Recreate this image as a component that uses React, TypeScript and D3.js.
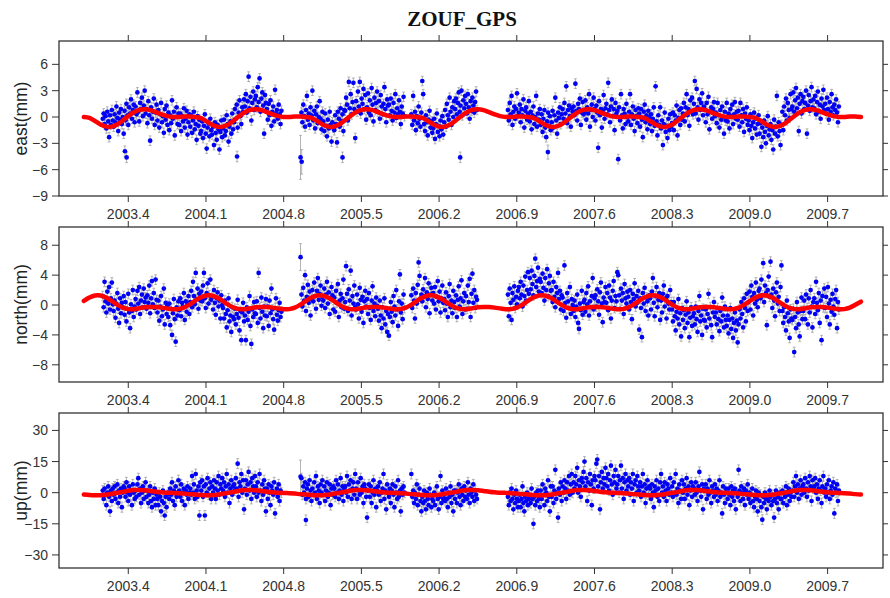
import React from "react";
import * as d3 from "d3";

// ---------- axes / layout data ----------
const TITLE = "ZOUF_GPS";
const X_TICKS = [2003.4, 2004.1, 2004.8, 2005.5, 2006.2, 2006.9, 2007.6, 2008.3, 2009.0, 2009.7];
const EAST_TICKS = [-9, -6, -3, 0, 3, 6];
const NORTH_TICKS = [-8, -4, 0, 4, 8];
const UP_TICKS = [-30, -15, 0, 15, 30];

// daily-solution segments (3-day sampling), start epochs of each continuous block
const SEG_START = [2003.17, 2004.96, 2005.95, 2006.82];
const DAY_STEP = 3;

// ---------- east (mm) ----------
const eastA = [-0.2,0.4,-0.8,0.1,-1.3,0.6,-0.5,-2.3,0.2,-0.9,0.8,-0.4,
-1.1,0.3,-0.6,1.2,-0.1,-1.6,0.5,-0.3,0.9,-0.8,0.0,-1.9,
0.7,-0.4,1.5,0.2,-0.9,1.1,0.4,2.0,-0.2,0.8,1.4,-0.6,
1.2,0.3,2.8,0.6,-0.5,1.6,0.9,2.2,0.1,1.3,3.0,0.4,
0.9,-0.7,1.8,0.2,-2.7,1.1,-0.2,0.6,2.1,-0.9,0.5,1.4,
-0.4,0.8,-1.2,0.3,1.6,-0.6,0.1,-1.8,0.9,-0.3,1.3,-0.9,
0.5,-1.5,0.2,-0.7,1.9,-0.2,0.6,-2.1,0.0,1.1,-0.8,0.4,
-0.9,0.4,-1.6,0.1,-0.5,1.0,-1.2,-0.2,0.7,-2.0,-0.6,0.3,
-1.1,0.2,-1.8,-0.4,0.6,-1.4,-0.8,-2.6,0.1,-1.0,-0.3,-1.9,
-1.6,-0.5,-2.4,-1.0,0.3,-1.9,-3.6,-1.2,-0.7,-2.2,-0.2,-1.5,
-2.0,-1.1,-3.2,-0.6,-1.8,-2.6,-0.9,-1.4,-3.7,-1.7,-0.4,-2.3,
-1.3,-0.3,-2.1,-1.6,0.2,-0.8,-2.8,-1.1,-0.5,-1.9,0.4,-1.4,
-0.6,0.9,-0.2,1.4,-1.2,0.5,1.9,0.1,-0.8,1.1,0.6,2.0,
1.2,2.6,0.5,1.8,4.6,1.0,2.3,-0.4,1.6,2.9,0.8,2.0,
2.4,1.1,3.4,1.7,4.4,0.6,2.1,2.8,1.3,-1.9,2.5,1.6,
0.9,-0.3,1.5,0.2,1.9,-1.0,0.6,1.2,-0.5,3.1,0.4,0.8,-0.2,1.4,0.3,-0.8,0.7];
const eastB = [0.5,-0.6,1.4,0.1,-1.1,0.8,2.4,-0.3,0.4,-0.9,1.1,0.2,
3.0,-0.4,0.7,-1.3,0.3,1.2,-0.7,0.0,1.8,-0.2,-1.4,0.6,
-0.5,-1.6,0.4,-1.0,-2.2,-0.3,-1.3,0.6,-0.9,-2.8,-0.6,-1.2,
-1.5,0.2,-0.8,-2.9,0.6,-0.2,-1.1,1.0,-0.5,0.3,-1.6,0.8,
0.7,2.2,1.4,-0.4,4.0,1.0,2.6,0.3,1.7,3.9,0.9,-2.4,
1.8,0.6,2.9,1.2,4.0,0.4,2.1,1.5,3.2,0.9,2.5,-0.3,
1.1,2.7,0.5,1.9,0.2,3.3,1.4,-0.5,2.2,0.8,1.6,2.9,
0.6,1.8,-0.2,2.5,1.2,0.3,1.5,3.4,0.9,-0.6,2.0,1.3,
1.4,0.2,2.1,0.7,-0.4,1.6,0.5,2.6,-0.1,1.0,0.3,1.9,0.6,-0.8,1.2,0.4,2.3,0.1];
const eastC = [0.3,-0.9,2.4,-0.4,0.6,-1.5,0.1,-0.7,1.2,-0.2,-1.1,0.5,
4.1,2.6,-0.8,-1.6,0.2,-0.6,-2.1,-0.3,0.7,-1.2,-0.5,-1.8,
-1.3,-0.2,-2.5,-0.8,0.4,-1.7,-1.0,-2.2,-0.4,-1.4,0.1,-2.0,
-0.6,0.8,-1.1,1.5,0.2,-0.3,2.2,0.6,-0.9,1.1,0.0,1.8,
0.9,2.1,0.3,1.6,2.8,0.6,1.3,3.0,0.2,1.9,1.0,2.4,
1.5,0.4,2.6,1.1,-0.2,1.8,0.7,2.2,1.3,0.5,1.7,2.9,0.8];
const eastD = [0.8,-0.4,1.6,0.3,2.4,-0.9,0.6,1.2,-0.2,0.9,2.7,0.1,
0.5,1.4,-0.6,0.9,0.2,2.0,-1.2,0.7,1.1,-0.3,0.4,1.8,
-0.5,0.6,-1.4,0.2,1.2,-0.8,0.0,2.4,-1.1,0.4,-0.3,0.9,
-0.9,0.3,-1.7,-0.2,0.8,-1.2,-2.3,-0.5,0.5,-1.0,0.1,-1.5,
-0.6,0.7,-1.2,0.2,2.2,-0.4,-1.9,0.5,-0.1,1.1,-0.8,0.3,
0.9,-0.2,1.6,0.4,3.5,-0.7,0.8,1.3,0.1,-1.1,1.0,0.6,
1.2,0.2,3.8,0.7,-0.4,1.5,0.9,2.1,-0.9,0.5,1.7,0.3,
0.6,1.9,-0.3,1.1,0.4,2.6,-1.1,0.8,1.4,0.0,2.2,0.9,
-0.4,1.3,0.5,-3.5,1.8,0.2,0.9,-1.2,0.7,2.5,-0.2,1.0,
1.5,0.3,3.9,0.8,-0.6,1.2,2.0,0.1,0.9,-1.5,1.6,0.4,
0.7,-4.8,1.1,-0.4,2.6,0.2,-1.3,0.9,0.4,-0.8,1.5,0.0,
-0.5,0.6,2.6,-0.9,0.3,1.2,-0.2,-1.6,0.8,0.1,-0.7,1.0,
0.4,-1.1,0.9,-0.3,-2.3,0.6,1.4,-0.6,0.2,-1.4,0.7,-0.1,
-0.8,0.3,-1.6,-0.2,1.1,-1.0,3.5,-0.5,-2.1,0.2,-0.9,1.1,
-1.3,-0.4,-3.2,-0.8,0.5,-1.7,-1.0,-2.4,-0.2,-1.5,0.3,-1.1,
-0.7,0.5,-1.5,0.2,-0.4,1.3,-2.1,-0.1,0.8,-0.9,1.0,-0.3,
0.4,1.6,-0.5,1.1,2.6,0.2,0.9,-1.0,1.9,0.6,2.2,0.3,
1.5,4.1,0.4,3.2,1.1,-0.3,2.0,0.8,1.6,2.7,0.2,1.2,
0.8,-0.6,1.6,0.3,2.3,-1.4,0.6,1.1,-0.2,0.9,1.7,0.1,
0.5,-0.7,1.6,0.2,-1.2,0.8,-0.3,1.2,0.0,-1.9,0.6,-0.4,
1.6,-0.5,0.4,-1.3,0.9,0.1,1.4,-0.8,0.3,1.7,-0.2,0.6,
-0.3,0.7,-1.1,1.6,0.2,-0.6,0.9,-1.7,0.4,-0.2,1.1,-0.9,
-0.4,-1.5,0.3,-1.0,-2.4,-0.6,0.5,-1.3,-0.2,-2.0,-0.8,0.2,
-1.9,-0.7,-3.4,-1.2,-2.3,-0.4,-1.7,-3.0,-1.0,0.1,-2.1,-1.4,
-0.8,-2.6,-1.5,-3.7,-0.3,-1.9,-1.1,2.4,-2.2,-0.6,-1.6,-3.2,
-0.9,0.6,-1.5,1.2,0.2,2.1,-0.4,1.6,0.8,-0.1,2.6,0.9,
1.2,2.8,0.6,1.9,3.3,1.0,2.2,-1.6,1.5,2.6,0.4,1.8,
2.3,0.9,1.6,3.0,-1.9,1.3,2.5,0.7,1.8,3.4,1.1,2.0,
1.0,2.4,0.3,1.7,2.9,0.6,1.4,-0.2,2.1,1.2,3.1,0.8,
1.5,0.4,2.2,0.9,-0.3,1.7,0.6,2.6,1.1,0.2,1.4,0.8,2.0,0.5,-0.6,1.2];
// isolated solutions: [epoch, value, sigma]
const eastOutliers = [[2003.37,-3.9,0.6],[2003.385,-4.6,0.6],[2004.38,-4.5,0.6],[2004.952,-4.6,2.5],[2004.962,-5.1,1.4],[2005.33,-4.6,0.6],[2006.39,-4.6,0.6],[2007.18,-4.0,0.8]];
const EAST_SIGMA = 0.55;

// ---------- north (mm) ----------
const northA = [1.2,-0.3,3.1,0.5,-1.0,1.8,0.2,2.4,-0.6,0.9,3.0,0.1,
-0.8,0.6,-1.7,0.2,1.6,-0.5,-2.4,0.9,-1.1,0.3,-0.3,1.2,
-1.3,0.4,-2.2,-0.5,1.5,-1.0,-3.1,0.1,-0.8,2.0,-1.6,-0.2,
0.8,-0.6,1.9,0.2,2.4,-1.2,0.6,1.4,-0.3,2.2,0.4,1.0,
-0.5,1.3,0.3,2.6,-1.1,0.9,3.2,0.1,1.6,-0.4,3.4,0.7,
-1.0,0.6,-2.1,-0.2,1.2,-1.5,-0.6,2.2,-2.6,0.3,-1.2,-0.1,
-1.6,0.2,-2.7,-0.5,-4.0,-1.1,0.8,-1.9,-4.9,-0.3,-1.4,0.5,
-0.7,0.9,-1.5,0.3,-0.2,1.6,-2.0,0.5,-0.9,0.1,1.2,-1.2,
0.4,1.9,-0.3,3.1,1.2,0.1,4.3,0.8,2.2,-0.5,1.5,0.6,
1.8,0.5,2.6,4.3,0.9,-0.4,1.6,2.9,0.2,1.3,3.4,0.7,
1.1,-0.6,2.0,0.3,-1.3,0.9,1.7,-0.2,0.6,-1.8,1.3,0.0,
-0.4,-1.8,0.6,-1.2,-3.0,-0.7,0.9,-2.2,-1.4,-3.6,-0.3,-1.6,
-1.9,-0.5,-2.6,-1.2,0.7,-1.7,-3.4,-0.8,-4.7,-1.0,0.3,-2.2,
-1.4,-4.7,-0.3,-2.0,-0.9,1.2,-2.8,-5.2,-0.6,-1.6,0.4,-1.1,
-1.2,0.5,-2.4,4.3,-0.4,-1.8,1.0,-0.9,-3.1,-0.2,-1.4,0.8,
-1.5,-0.2,-2.8,0.6,-1.1,2.2,-0.6,-1.9,-3.3,-0.4,0.9,-1.3,-2.1,-0.7,0.3,-1.6,-0.9];
const northB = [1.4,-0.2,2.3,0.6,4.0,-0.8,1.1,2.7,0.3,1.8,-1.4,0.8,
2.0,0.5,3.0,1.2,-0.5,1.9,3.6,0.7,1.5,2.6,-0.1,1.1,
0.6,2.2,-0.4,1.4,3.1,0.2,1.7,-1.2,0.9,2.4,1.3,-0.6,
1.0,-0.9,1.9,0.3,2.8,-1.6,0.6,1.5,-0.3,0.9,3.4,-0.5,
0.4,5.2,1.5,-0.8,2.1,0.6,4.6,-1.4,1.2,0.2,2.6,-0.3,
-0.6,1.4,0.1,-1.8,2.3,0.7,-0.9,1.1,-2.4,0.5,1.9,-0.2,
0.8,-1.2,1.6,-0.4,-2.0,0.6,2.5,-0.8,0.2,-1.5,1.0,-0.1,
-0.5,-2.1,0.6,-1.4,-3.1,-0.3,-1.8,0.9,-2.6,-0.8,-3.6,-1.2,
-4.1,-1.6,0.4,-0.9,-2.3,1.2,-0.2,-1.4,2.0,-0.6,-2.8,0.5,4.1,-1.0,0.2,-1.9,1.4,-0.4];
const northC = [1.3,-0.4,2.2,0.6,-1.8,1.6,0.2,2.7,5.7,3.9,0.9,1.4,
0.5,2.1,1.2,3.6,-0.3,1.7,0.8,2.9,-1.1,1.4,2.3,0.6,
1.6,0.2,2.4,-0.6,1.1,3.2,0.5,1.8,-1.0,0.9,2.6,0.3,
0.8,-0.7,1.7,0.2,-1.6,1.2,2.8,-0.3,0.6,-1.1,1.9,0.4,
-0.4,1.3,-1.6,0.7,2.5,-0.2,0.9,3.3,-1.2,0.5,1.6,-0.6,
1.2,-0.5,2.6,0.4,3.5,-1.6,1.5,4.2,0.3,2.0,-0.4,1.1,0.7];
const northD = [1.4,-1.5,2.2,0.3,-2.0,1.6,0.7,2.5,-0.4,1.1,0.1,1.9,
2.4,0.9,3.1,1.4,-0.2,2.6,1.2,3.8,0.6,2.0,4.4,1.5,
3.6,2.1,4.6,2.8,1.3,3.9,6.2,2.4,3.2,5.0,1.8,3.5,
3.1,1.6,4.2,2.3,0.6,3.6,2.0,4.8,1.2,2.9,3.9,1.9,
2.0,0.4,3.1,1.1,-0.3,2.4,1.6,4.3,0.8,1.9,-0.6,1.3,
1.0,-0.8,5.3,0.3,-1.7,1.6,0.5,-0.4,2.4,-1.2,0.8,0.0,
-0.8,0.6,-1.6,-0.2,1.4,-2.4,-3.2,0.2,-0.7,1.9,-1.3,0.4,
0.7,-0.9,1.6,0.1,2.5,-1.4,0.5,-0.3,1.2,3.6,-0.6,0.9,
1.3,-0.2,2.1,0.5,-1.3,1.7,3.0,0.2,-2.3,1.0,0.4,2.4,
0.3,1.6,-0.7,2.6,1.0,-1.8,0.6,1.9,3.2,-0.4,1.2,0.5,
4.4,4.0,1.3,-0.5,2.2,0.6,1.6,-1.2,2.8,0.9,0.2,1.8,
1.1,-0.6,2.0,0.4,-1.9,1.5,0.8,2.9,-0.2,1.2,0.3,1.9,
-3.3,0.9,-0.4,-4.3,1.6,0.2,2.3,-0.8,1.0,0.5,-1.4,1.3,
0.9,-0.6,1.8,3.6,0.3,-1.5,1.2,2.4,-0.3,0.7,1.6,-2.0,
0.6,-1.0,1.5,2.6,-0.2,0.9,-1.8,1.2,0.2,-0.6,2.0,0.4,
-0.6,-2.2,0.4,-1.5,-3.4,-0.9,-1.8,0.8,-2.6,-1.1,-4.2,-0.4,
-2.0,-0.7,-3.1,-1.3,0.5,-2.4,-1.0,-4.3,-1.7,-0.3,-2.8,-1.5,
-1.1,-2.6,-0.2,-1.9,-3.6,-0.8,1.2,-2.2,-1.4,-4.0,-0.5,-2.0,
-2.1,-0.6,-3.0,-1.2,1.5,-1.8,-0.3,-2.7,-4.3,-1.0,0.4,-1.6,
-1.0,-2.6,-0.4,-1.9,-3.5,-0.8,-2.2,1.0,-1.4,-3.0,-0.2,-2.0,
-2.8,-1.4,-3.8,-2.0,-0.4,-3.2,-1.8,-4.4,-2.4,-1.0,-3.4,-2.1,
-5.0,-2.6,-0.6,-1.8,0.4,-1.2,-3.0,0.9,-0.4,-2.2,1.5,-0.8,
0.4,1.8,-0.6,2.6,1.1,-1.4,1.6,0.2,3.0,0.7,-0.3,1.9,
2.2,0.9,3.4,1.3,5.6,0.4,2.6,1.6,-2.7,2.0,3.8,1.1,
5.8,1.4,-0.4,2.2,0.6,-1.5,1.7,3.0,0.2,1.1,-0.8,2.4,
5.3,-0.8,-2.4,-0.3,-1.6,-3.4,0.6,-1.1,-2.2,-4.4,-0.6,-1.8,
-2.0,-0.5,-6.3,-1.6,-3.1,0.4,-1.0,-2.6,-4.2,-0.8,1.0,-1.9,
-0.8,0.6,-1.9,1.4,-0.4,-2.6,0.9,-1.0,2.0,-0.2,-3.0,0.4,
0.9,-1.2,3.1,0.3,-0.7,1.6,-2.4,0.6,-4.7,1.2,-0.3,2.2,
-0.4,1.1,-1.6,2.4,0.2,-2.6,0.7,-0.9,1.5,-0.2,-1.3,0.8,2.0,-3.1,0.4,-0.6];
const northOutliers = [[2004.952,6.4,1.8]];
const NORTH_SIGMA = 0.65;

// ---------- up (mm) ----------
const upA = [1,-3,2,-1,-6,0,3,-2,-9,1,-4,2,
-1,3,-3,0,4,-5,1,-2,2,-7,0,3,
2,-2,5,0,-4,3,-1,1,-6,4,0,-3,
1,-2,4,7,-1,2,-5,0,3,-3,1,5,
-2,1,-5,-1,3,-4,-7,0,-3,2,-6,-1,
-3,-6,0,-2,-9,-4,1,-5,-11,-2,-7,-1,
0,-3,2,-1,5,-4,1,-6,3,-2,0,6,
1,-2,4,-4,0,2,-6,1,-1,3,-3,0,
2,-1,8,0,4,-3,9,1,-2,3,-11,5,
1,6,-2,3,-11,4,0,7,-1,2,5,-3,
3,0,6,2,-3,5,1,8,-1,4,2,7,
1,5,-2,3,9,0,4,-5,2,6,-1,3,
4,1,7,2,14,-2,5,3,9,0,6,-8,
2,6,-1,4,10,1,5,-3,7,3,0,8,
3,-2,5,0,9,1,-4,4,-1,6,2,-9,
2,-3,4,0,-6,3,1,-1,5,-10,0,2,-2,4,-4,1,0];
const upB = [7,-1,3,0,5,-3,2,4,-2,6,1,-4,
2,-1,5,0,8,-3,3,1,-5,4,0,6,
-1,3,-4,1,5,-2,0,4,-6,2,-1,3,
2,-2,6,0,4,-3,1,7,-1,3,-4,2,
3,0,8,-2,4,1,6,-3,2,5,-1,9,
2,-3,5,1,-1,7,0,3,-5,4,2,-2,
-12,1,4,-2,3,-5,0,6,-1,2,-7,1,
3,-1,5,-4,0,2,9,-3,1,-8,4,0,
-2,2,-5,1,4,-1,-7,3,0,-3,6,-2,1,-9,2,-1,3,0];
const upC = [9,-2,1,-5,0,-3,4,-6,-1,2,-4,-9,
-2,-5,1,-4,-8,0,-3,-6,2,-1,-7,-3,
-4,0,-6,-1,3,-3,-8,-2,8,-5,1,-3,
-1,-4,2,-3,-7,0,-2,3,-5,-1,-9,1,
-3,1,-5,0,4,-2,-6,2,-1,-4,3,-2,
1,-3,5,-1,-5,2,0,-2,4,-4,1,-1,-3];
const upD = [-2,-6,0,-4,2,-3,-8,-1,-5,1,-3,-7,
-4,-1,-7,-3,3,-5,-9,-2,-4,0,-6,-3,
-1,-5,2,-3,-15,-2,-6,0,-4,1,-3,-7,
1,-3,4,-1,-6,2,0,-4,6,-2,-9,3,
-2,3,-5,1,11,-3,0,-12,2,-1,5,-4,
3,0,6,2,-3,5,1,8,-1,4,9,0,
5,2,8,4,12,0,6,3,-2,7,5,10,
15,3,7,-4,5,1,9,4,-6,6,2,8,
6,14,16,3,8,-8,5,10,2,7,4,12,
7,3,9,1,6,13,4,-1,8,5,11,2,
4,8,0,6,13,2,7,-3,5,9,1,6,
3,7,-1,5,2,9,-4,4,6,0,8,3,
1,5,-2,3,9,0,4,-5,2,6,-1,3,
2,-3,4,0,-7,3,1,6,-2,2,-4,5,
9,0,3,-2,5,1,-4,4,2,-1,7,0,
3,-2,5,0,9,-1,2,-5,4,1,-3,6,
0,4,-3,2,7,-1,3,-6,1,5,-2,3,
2,-1,5,0,-4,3,10,1,-2,4,-8,2,
1,4,-3,2,-1,6,0,-5,3,1,-2,4,
-1,2,-4,1,6,-2,0,-10,3,-1,-5,2,
0,-3,2,-1,-6,3,-2,1,-4,2,-8,0,
-2,11,1,-4,3,0,-3,2,-6,1,-1,4,
-3,0,-5,-1,2,-4,-7,-2,1,-3,-9,0,
-4,-1,-7,-13,-2,-5,0,-3,-8,-2,-4,1,
-2,-6,-1,-4,-12,-3,1,-5,-2,-8,0,-3,
-3,1,-5,0,-2,3,-6,-1,2,-4,0,-2,
1,5,-2,3,8,0,4,-3,2,6,-1,3,
4,0,7,2,-2,5,1,8,3,-4,6,2,
3,7,0,4,-3,2,6,1,-5,3,8,0,
2,-2,4,0,6,-3,1,3,-1,5,-10,2,0,4,-4,1];
const upOutliers = [[2004.952,7.7,8],[2005.0,-13.2,2.5]];
const UP_SIGMA = 2.4;

// ---------- seasonal model (red), sampled every 0.05 yr from 2003.0 to 2010.0 ----------
const FIT_START = 2003.0;
const FIT_STEP = 0.05;
const eastFit = [
0.0,-0.1,-0.45,-0.85,-1.1,-1.1,-0.85,-0.4,0.1,0.55,0.82,0.88,0.78,0.55,0.3,0.1,0.0,0.0,0.05,0.05,
0.0,-0.1,-0.45,-0.85,-1.1,-1.1,-0.85,-0.4,0.1,0.55,0.82,0.88,0.78,0.55,0.3,0.1,0.0,0.0,0.05,0.05,
0.0,-0.1,-0.45,-0.85,-1.1,-1.1,-0.85,-0.4,0.1,0.55,0.82,0.88,0.78,0.55,0.3,0.1,0.0,0.0,0.05,0.05,
0.0,-0.1,-0.45,-0.85,-1.1,-1.1,-0.85,-0.4,0.1,0.55,0.82,0.88,0.78,0.55,0.3,0.1,0.0,0.0,0.05,0.05,
0.0,-0.1,-0.45,-0.85,-1.1,-1.1,-0.85,-0.4,0.1,0.55,0.82,0.88,0.78,0.55,0.3,0.1,0.0,0.0,0.05,0.05,
0.0,-0.1,-0.45,-0.85,-1.1,-1.1,-0.85,-0.4,0.1,0.55,0.82,0.88,0.78,0.55,0.3,0.1,0.0,0.0,0.05,0.05,
0.0,-0.1,-0.45,-0.85,-1.1,-1.1,-0.85,-0.4,0.1,0.55,0.82,0.88,0.78,0.55,0.3,0.1,0.0,0.0,0.05,0.05,
0.0];
const northFit = [
0.55,1.0,1.28,1.28,1.0,0.55,0.05,-0.35,-0.55,-0.55,-0.42,-0.3,-0.25,-0.28,-0.35,-0.45,-0.55,-0.55,-0.35,0.05,
0.55,1.0,1.28,1.28,1.0,0.55,0.05,-0.35,-0.55,-0.55,-0.42,-0.3,-0.25,-0.28,-0.35,-0.45,-0.55,-0.55,-0.35,0.05,
0.55,1.0,1.28,1.28,1.0,0.55,0.05,-0.35,-0.55,-0.55,-0.42,-0.3,-0.25,-0.28,-0.35,-0.45,-0.55,-0.55,-0.35,0.05,
0.55,1.0,1.28,1.28,1.0,0.55,0.05,-0.35,-0.55,-0.55,-0.42,-0.3,-0.25,-0.28,-0.35,-0.45,-0.55,-0.55,-0.35,0.05,
0.55,1.0,1.28,1.28,1.0,0.55,0.05,-0.35,-0.55,-0.55,-0.42,-0.3,-0.25,-0.28,-0.35,-0.45,-0.55,-0.55,-0.35,0.05,
0.55,1.0,1.28,1.28,1.0,0.55,0.05,-0.35,-0.55,-0.55,-0.42,-0.3,-0.25,-0.28,-0.35,-0.45,-0.55,-0.55,-0.35,0.05,
0.55,1.0,1.28,1.28,1.0,0.55,0.05,-0.35,-0.55,-0.55,-0.42,-0.3,-0.25,-0.28,-0.35,-0.45,-0.55,-0.55,-0.35,0.05,
0.45];
const upFit = [
-0.9,-1.15,-1.25,-1.2,-0.95,-0.55,-0.1,0.4,0.9,1.25,1.35,1.2,0.85,0.45,0.15,0.0,-0.1,-0.25,-0.45,-0.7,
-0.9,-1.15,-1.25,-1.2,-0.95,-0.55,-0.1,0.4,0.9,1.25,1.35,1.2,0.85,0.45,0.15,0.0,-0.1,-0.25,-0.45,-0.7,
-0.9,-1.15,-1.25,-1.2,-0.95,-0.55,-0.1,0.4,0.9,1.25,1.35,1.2,0.85,0.45,0.15,0.0,-0.1,-0.25,-0.45,-0.7,
-0.9,-1.15,-1.25,-1.2,-0.95,-0.55,-0.1,0.4,0.9,1.25,1.35,1.2,0.85,0.45,0.15,0.0,-0.1,-0.25,-0.45,-0.7,
-0.9,-1.15,-1.25,-1.2,-0.95,-0.55,-0.1,0.4,0.9,1.25,1.35,1.2,0.85,0.45,0.15,0.0,-0.1,-0.25,-0.45,-0.7,
-0.9,-1.15,-1.25,-1.2,-0.95,-0.55,-0.1,0.4,0.9,1.25,1.35,1.2,0.85,0.45,0.15,0.0,-0.1,-0.25,-0.45,-0.7,
-0.9,-1.15,-1.25,-1.2,-0.95,-0.55,-0.1,0.4,0.9,1.25,1.35,1.2,0.85,0.45,0.15,0.0,-0.1,-0.25,-0.45,-0.7,
-0.9];

type Pt = { t: number; v: number; e: number };

function buildPoints(segs: number[][], sigma: number, outliers: number[][]): Pt[] {
  const pts: Pt[] = [];
  segs.forEach((arr, s) => {
    arr.forEach((v, i) => pts.push({ t: SEG_START[s] + (i * DAY_STEP) / 365.25, v, e: sigma }));
  });
  outliers.forEach(([t, v, e]) => pts.push({ t, v, e }));
  return pts;
}

const W = 890;
const H = 598;
const LEFT = 59;
const RIGHT = 883;
const xScale = d3.scaleLinear().domain([2002.776, 2010.199]).range([LEFT, RIGHT]);

const PANELS = [
  { label: "east(mm)", top: 41, bottom: 196, domain: [-9, 8.66], ticks: EAST_TICKS,
    pts: buildPoints([eastA, eastB, eastC, eastD], EAST_SIGMA, eastOutliers), fit: eastFit },
  { label: "north(mm)", top: 227, bottom: 382, domain: [-10.3, 10.44], ticks: NORTH_TICKS,
    pts: buildPoints([northA, northB, northC, northD], NORTH_SIGMA, northOutliers), fit: northFit },
  { label: "up(mm)", top: 413, bottom: 568, domain: [-36.3, 38.4], ticks: UP_TICKS,
    pts: buildPoints([upA, upB, upC, upD], UP_SIGMA, upOutliers), fit: upFit },
];

const fmtY = (v: number) => (v < 0 ? "\u2212" + Math.abs(v) : String(v));
const fmtX = (v: number) => v.toFixed(1);

function Panel({ p }: { p: typeof PANELS[number] }) {
  const y = d3.scaleLinear().domain(p.domain).range([p.bottom, p.top]);
  let err = "";
  for (const d of p.pts) {
    const x = xScale(d.t);
    const y1 = y(d.v + d.e);
    const y2 = y(d.v - d.e);
    err += `M${x.toFixed(1)},${y1.toFixed(1)}V${y2.toFixed(1)}M${(x - 1.4).toFixed(1)},${y1.toFixed(1)}h2.8M${(x - 1.4).toFixed(1)},${y2.toFixed(1)}h2.8`;
  }
  const fitPts: [number, number][] = p.fit.map((v, i) => [FIT_START + i * FIT_STEP, v]);
  const line = d3
    .line<[number, number]>()
    .x((d) => xScale(d[0]))
    .y((d) => y(d[1]))
    .curve(d3.curveCatmullRom.alpha(0.5));
  const axisColor = "#333";
  const mid = (p.top + p.bottom) / 2;
  return (
    <g>
      <path d={err} stroke="#a0a0a0" strokeWidth={0.8} fill="none" />
      {p.pts.map((d, i) => (
        <circle key={i} cx={xScale(d.t)} cy={y(d.v)} r={2.35} fill="#0000f5" />
      ))}
      <path d={line(fitPts) || ""} stroke="#ff0000" strokeWidth={4.5} fill="none" strokeLinecap="round" />
      <rect x={LEFT} y={p.top} width={RIGHT - LEFT} height={p.bottom - p.top} fill="none" stroke={axisColor} strokeWidth={1.3} />
      {X_TICKS.map((t) => (
        <g key={t}>
          <line x1={xScale(t)} x2={xScale(t)} y1={p.top} y2={p.top - 6} stroke={axisColor} strokeWidth={1} />
          <line x1={xScale(t)} x2={xScale(t)} y1={p.bottom} y2={p.bottom + 6} stroke={axisColor} strokeWidth={1} />
          <text x={xScale(t)} y={p.bottom + 23} textAnchor="middle" fontSize={14} fill={axisColor}
            fontFamily="'Liberation Sans', Arial, sans-serif">{fmtX(t)}</text>
        </g>
      ))}
      {p.ticks.map((t) => (
        <g key={t}>
          <line x1={LEFT} x2={LEFT - 7} y1={y(t)} y2={y(t)} stroke={axisColor} strokeWidth={1} />
          <line x1={RIGHT} x2={RIGHT + 5} y1={y(t)} y2={y(t)} stroke={axisColor} strokeWidth={1} />
          <text x={LEFT - 11} y={y(t) + 5} textAnchor="end" fontSize={14} fill={axisColor}
            fontFamily="'Liberation Sans', Arial, sans-serif">{fmtY(t)}</text>
        </g>
      ))}
      <text transform={`translate(27,${mid}) rotate(-90)`} textAnchor="middle" fontSize={17.5} fill="#222"
        fontFamily="'Liberation Sans', Arial, sans-serif">{p.label}</text>
    </g>
  );
}

export default function App() {
  return (
    <svg width={W} height={H} style={{ position: "absolute", left: 0, top: 0, background: "#fff" }}>
      <rect x={0} y={0} width={W} height={H} fill="#fff" />
      <text x={462} y={26} textAnchor="middle" fontSize={21} fontWeight="bold"
        fontFamily="'Liberation Serif', 'Times New Roman', serif" fill="#111">{TITLE}</text>
      {PANELS.map((p) => (
        <Panel key={p.label} p={p} />
      ))}
    </svg>
  );
}
